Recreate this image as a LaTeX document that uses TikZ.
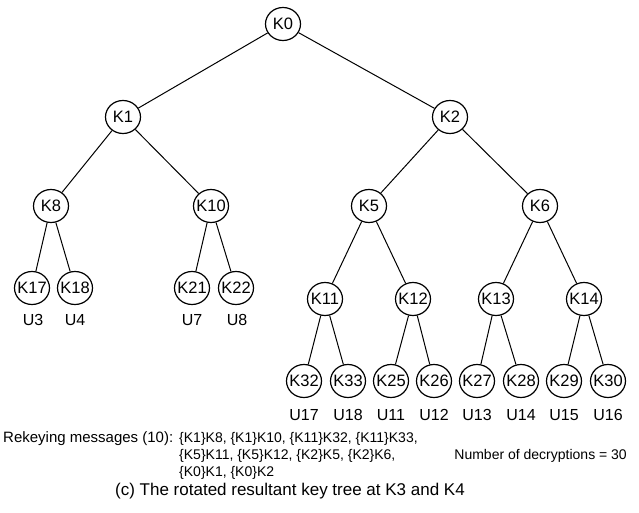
\documentclass[tikz,border=0pt]{standalone}
\usepackage{fontspec}
\setmainfont{Liberation Sans}
\usetikzlibrary{shapes.geometric}
\begin{document}
\begin{tikzpicture}[x=1pt,y=-1pt,
  key/.style={ellipse,draw,line width=1.2pt,minimum width=35pt,minimum height=33pt,
    inner sep=0pt,font=\fontsize{16.5}{16.5}\selectfont},
  usr/.style={font=\fontsize{16}{16}\selectfont,inner sep=0pt},
  edge/.style={line width=1pt},
  note/.style={font=\fontsize{14}{14}\selectfont,inner sep=0pt,anchor=base west}]
\useasboundingbox (0,0) rectangle (639,513);

% key nodes, level by level (labels kept zero-width so the outline size stays fixed)
\newcommand\klabel[1]{\makebox[0pt]{#1}}
\node[key] (k0) at (283,24) {\klabel{K0}};
\node[key] (k1) at (123,117) {\klabel{K1}};
\node[key] (k2) at (450,117) {\klabel{K2}};
\node[key] (k8) at (51,206) {\klabel{K8}};
\node[key] (k10) at (211,206) {\klabel{K10}};
\node[key] (k5) at (369,206) {\klabel{K5}};
\node[key] (k6) at (540,206) {\klabel{K6}};
\node[key] (k17) at (32,288) {\klabel{K17}};
\node[key] (k18) at (75,288) {\klabel{K18}};
\node[key] (k21) at (192,288) {\klabel{K21}};
\node[key] (k22) at (236,288) {\klabel{K22}};
\node[key] (k11) at (325,299) {\klabel{K11}};
\node[key] (k12) at (413,299) {\klabel{K12}};
\node[key] (k13) at (496,299) {\klabel{K13}};
\node[key] (k14) at (584,299) {\klabel{K14}};
\node[key] (k32) at (304,381) {\klabel{K32}};
\node[key] (k33) at (348,381) {\klabel{K33}};
\node[key] (k25) at (391,381) {\klabel{K25}};
\node[key] (k26) at (434,381) {\klabel{K26}};
\node[key] (k27) at (477,381) {\klabel{K27}};
\node[key] (k28) at (521,381) {\klabel{K28}};
\node[key] (k29) at (564,381) {\klabel{K29}};
\node[key] (k30) at (608,381) {\klabel{K30}};

% tree edges
\foreach \p/\c in {k0/k1,k0/k2,k1/k8,k1/k10,k2/k5,k2/k6,
  k8/k17,k8/k18,k10/k21,k10/k22,k5/k11,k5/k12,k6/k13,k6/k14,
  k11/k32,k11/k33,k12/k25,k12/k26,k13/k27,k13/k28,k14/k29,k14/k30}
  \draw[edge] (\p) -- (\c);

% users under the leaves
\node[usr] (u3) at (33,320) {U3};
\node[usr] (u4) at (75,320) {U4};
\node[usr] (u7) at (192,320) {U7};
\node[usr] (u8) at (237,320) {U8};
\node[usr] (u17) at (304,415) {U17};
\node[usr] (u18) at (348,415) {U18};
\node[usr] (u11) at (391,415) {U11};
\node[usr] (u12) at (434,415) {U12};
\node[usr] (u13) at (477,415) {U13};
\node[usr] (u14) at (521,415) {U14};
\node[usr] (u15) at (564,415) {U15};
\node[usr] (u16) at (608,415) {U16};

% rekeying summary
\node[note,font=\fontsize{15}{15}\selectfont] (lbl) at (3,442) {Rekeying messages (10):};
\node[note] (m1) at (179,442) {\{K1\}K8, \{K1\}K10, \{K11\}K32, \{K11\}K33,};
\node[note] (m2) at (179,459) {\{K5\}K11, \{K5\}K12, \{K2\}K5, \{K2\}K6,};
\node[note] (m3) at (179,476) {\{K0\}K1, \{K0\}K2};
\node[note,anchor=base east] (dec) at (627,459) {Number of decryptions = 30};

% caption
\node[font=\fontsize{17}{17}\selectfont,inner sep=0pt,anchor=base] (cap) at (290,495)
  {(c) The rotated resultant key tree at K3 and K4};
\end{tikzpicture}
\end{document}
